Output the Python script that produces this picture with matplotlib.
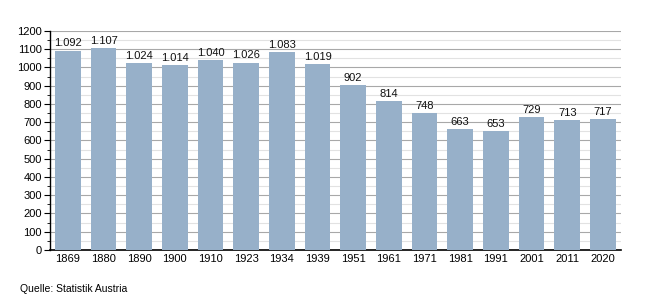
import matplotlib
matplotlib.use("Agg")
import matplotlib.pyplot as plt
from matplotlib.ticker import MultipleLocator

plt.rcParams["font.family"] = ["Liberation Sans", "DejaVu Sans"]

years = ["1869", "1880", "1890", "1900", "1910", "1923", "1934", "1939",
         "1951", "1961", "1971", "1981", "1991", "2001", "2011", "2020"]
values = [1092, 1107, 1024, 1014, 1040, 1026, 1083, 1019,
          902, 814, 748, 663, 653, 729, 713, 717]

BAR_COLOR = "#97b0c9"


def fmt(v):
    # German thousands separator
    return f"{v:,}".replace(",", ".")


fig = plt.figure(figsize=(6.5, 3.0), dpi=100)
ax = fig.add_axes([0.077, 0.167, 0.878, 0.730])

x = range(len(years))
bars = ax.bar(x, values, width=0.72, color=BAR_COLOR, zorder=3)
for bar, v in zip(bars, values):
    ax.text(bar.get_x() + bar.get_width() / 2, v + 12, fmt(v),
            ha="center", va="bottom", fontsize=8, color="#111111", zorder=4)

ax.set_xlim(-0.5, len(years) - 0.5)
ax.set_ylim(0, 1200)
ax.set_xticks(list(x))
ax.set_xticklabels(years, fontsize=8)
ax.yaxis.set_major_locator(MultipleLocator(100))
ax.yaxis.set_minor_locator(MultipleLocator(50))
ax.tick_params(axis="y", labelsize=8, length=4, width=0.8, pad=2)
ax.tick_params(axis="y", which="minor", length=2, width=0.6)
ax.tick_params(axis="x", length=0, pad=3)

ax.grid(axis="y", which="major", color="#a8a8a8", linewidth=0.8, zorder=0)
ax.grid(axis="y", which="minor", color="#e2e2e2", linewidth=0.8, zorder=0)

for side in ("top", "right"):
    ax.spines[side].set_visible(False)
ax.spines["left"].set_linewidth(1.0)
ax.spines["bottom"].set_linewidth(1.2)

fig.text(20 / 650, 1 - 289 / 300, "Quelle: Statistik Austria",
         fontsize=7.5, va="center", ha="left")

fig.savefig("out.png", dpi=100)
